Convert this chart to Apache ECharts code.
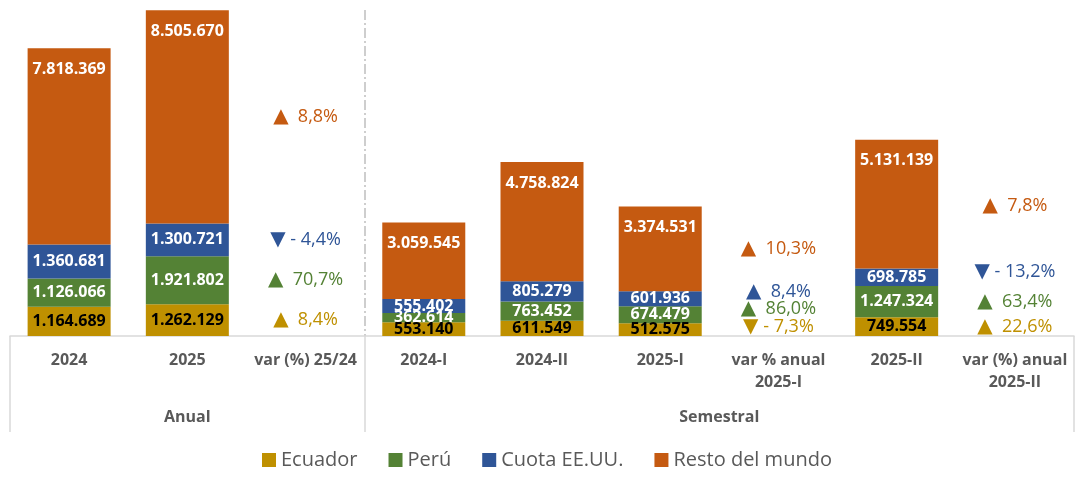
<!DOCTYPE html>
<html>
<head>
<meta charset="utf-8">
<script src="https://cdn.jsdelivr.net/npm/echarts@6/dist/echarts.min.js"></script>
<style>
  html, body { margin: 0; padding: 0; background: #fff; }
  #chart { width: 1077px; height: 477px; }
</style>
</head>
<body>
<div id="chart"></div>
<script>
// categorías del eje (null en las columnas de variación)
const categories = ['2024', '2025', 'var (%) 25/24', '2024-I', '2024-II', '2025-I', 'var % anual\n2025-I', '2025-II', 'var (%) anual\n2025-II']
const groups = ['Anual', 'Semestral']

const ecuador = [1164689, 1262129, null, 553140, 611549, 512575, null, 749554, null]
const peru = [1126066, 1921802, null, 362614, 763452, 674479, null, 1247324, null]
const cuota = [1360681, 1300721, null, 555402, 805279, 601936, null, 698785, null]
const resto = [7818369, 8505670, null, 3059545, 4758824, 3374531, null, 5131139, null]

// variaciones (%) en el orden de las columnas "var"
const ecuadorVar = [8.4, -7.3, 22.6]
const peruVar = [70.7, 86.0, 63.4]
const cuotaVar = [-4.4, 8.4, -13.2]
const restoVar = [8.8, 10.3, 7.8]

const FONT = "'Open Sans', 'Noto Sans', sans-serif"

const fmtNum = v => String(v).replace(/\B(?=(\d{3})+(?!\d))/g, '.')
const fmtVar = v => (v >= 0 ? '{tri|▲}  ' : '{tri|▼} - ') + Math.abs(v).toFixed(1).replace('.', ',') + '%'

// las columnas de variación usan una barra invisible con los valores del periodo anterior
// para colocar el texto a la altura de cada segmento
const buildSeries = (name, values, vars, color, textColor, varOffsets, labelPos) => {
  let k = 0
  const data = categories.map((c, i) => {
    if (values[i] != null) return values[i]
    const idx = k++
    return {
      value: values[i - 1],
      itemStyle: { color: 'transparent' },
      label: {
        position: 'inside',
        formatter: fmtVar(vars[idx]),
        color: color,
        fontWeight: 'normal',
        fontSize: 18,
        offset: [0, varOffsets[idx]],
        rich: {
          tri: { fontFamily: 'DejaVu Sans', fontSize: 20, color: color }
        }
      }
    }
  })
  return {
    name,
    type: 'bar',
    stack: 'total',
    barWidth: 83,
    itemStyle: { color },
    label: {
      show: true,
      position: labelPos,
      distance: 13,
      color: textColor,
      fontFamily: FONT,
      fontWeight: 'bold',
      fontSize: 16,
      formatter: p => fmtNum(p.value)
    },
    emphasis: { disabled: true },
    data
  }
}

// eje auxiliar para los grupos (Anual / Semestral), 19 puntos sobre media categoría
const groupAxisData = Array.from({ length: 19 }, (_, i) => (i === 3 ? groups[0] : i === 12 ? groups[1] : ''))
const groupEdges = [0, 6, 18]

const chart = echarts.init(document.getElementById('chart'))

chart.setOption({
  animation: false,
  textStyle: { fontFamily: FONT },
  grid: { left: 10, top: 10, width: 1075, height: 326 },
  legend: {
    bottom: 2,
    left: 257,
    icon: 'rect',
    itemWidth: 14,
    itemHeight: 14,
    itemGap: 31,
    textStyle: { fontFamily: FONT, fontSize: 20, color: '#595959' },
    data: ['Ecuador', 'Perú', 'Cuota EE.UU.', 'Resto del mundo']
  },
  xAxis: [
    {
      type: 'category',
      data: categories,
      axisLine: { lineStyle: { color: '#D9D9D9', width: 1.5 } },
      axisTick: { show: false },
      axisLabel: {
        interval: 0,
        margin: 13,
        color: '#595959',
        fontFamily: FONT,
        fontWeight: 'bold',
        fontSize: 16,
        lineHeight: 22
      }
    },
    {
      type: 'category',
      position: 'bottom',
      boundaryGap: false,
      data: groupAxisData,
      axisLine: { show: false },
      axisTick: {
        show: true,
        length: 96,
        interval: i => groupEdges.includes(i),
        lineStyle: { color: '#D9D9D9', width: 1.5 }
      },
      axisLabel: {
        interval: 0,
        margin: 73,
        color: '#595959',
        fontFamily: FONT,
        fontWeight: 'bold',
        fontSize: 16
      },
      splitLine: {
        show: true,
        interval: i => i === 6,
        lineStyle: { color: '#BFBFBF', width: 1.5, type: [10, 3, 2, 3] }
      }
    }
  ],
  yAxis: {
    type: 'value',
    min: 0,
    max: 13000000,
    show: false,
    splitLine: { show: false }
  },
  series: [
    buildSeries('Ecuador', ecuador, ecuadorVar, '#BF9000', '#000000', [0, -3, 0], 'inside'),
    buildSeries('Perú', peru, peruVar, '#548235', '#FFFFFF', [0, -6, 0], 'inside'),
    buildSeries('Cuota EE.UU.', cuota, cuotaVar, '#2F5597', '#FFFFFF', [0, -7, -5], 'inside'),
    buildSeries('Resto del mundo', resto, restoVar, '#C55A11', '#FFFFFF', [0, 0, 2], 'insideTop')
  ]
})
</script>
</body>
</html>
